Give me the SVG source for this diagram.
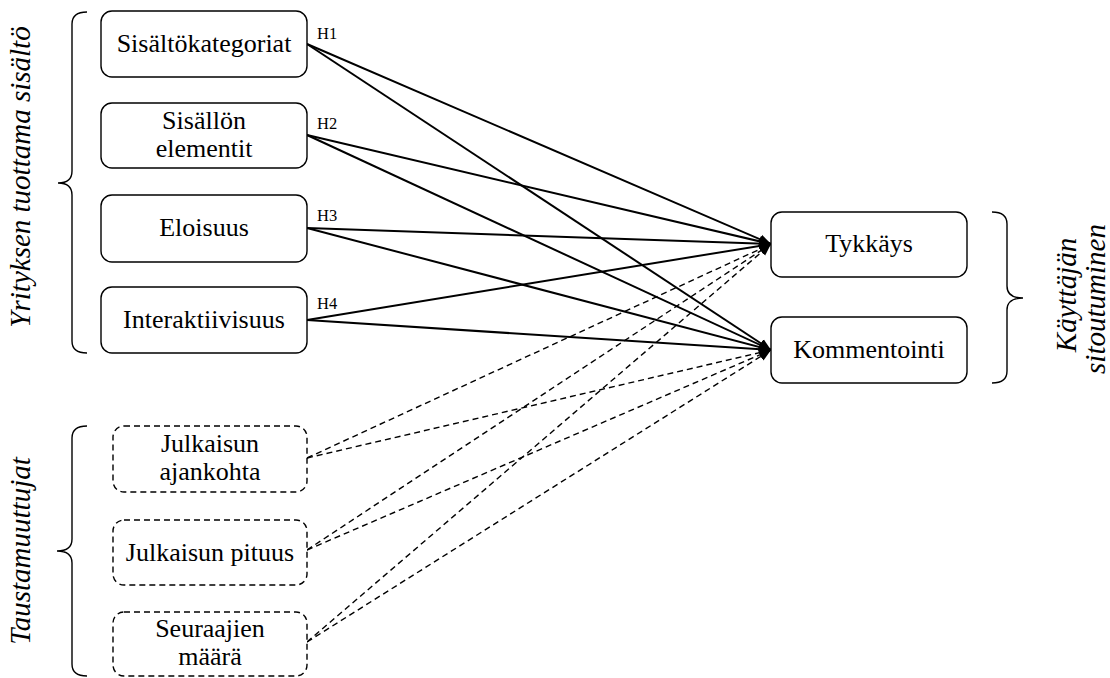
<svg xmlns="http://www.w3.org/2000/svg" width="1110" height="678" viewBox="0 0 1110 678" font-family="'Liberation Serif', 'Times New Roman', serif">
<style>
.box{fill:#fff;stroke:#000;stroke-width:1.4}
.dbox{fill:#fff;stroke:#000;stroke-width:1.4;stroke-dasharray:6,4}
.t{font-family:'Liberation Serif','Times New Roman',serif;font-size:26px;fill:#000;text-anchor:middle}
.h{font-family:'Liberation Serif','Times New Roman',serif;font-size:16.5px;fill:#000}
.it{font-family:'Liberation Serif','Times New Roman',serif;font-size:29px;font-style:italic;fill:#000;text-anchor:middle}
.br{fill:none;stroke:#000;stroke-width:1.4}
.s{stroke:#000;stroke-width:2;fill:none;marker-end:url(#a)}
.d{stroke:#000;stroke-width:1.4;stroke-dasharray:6,4;fill:none;marker-end:url(#a)}
</style>
<defs>
<marker id="a" markerUnits="userSpaceOnUse" markerWidth="13" markerHeight="11" refX="12" refY="5.5" orient="auto">
<path d="M0,0.5 L12,5.5 L0,10.5 Z" fill="#000"/>
</marker>
</defs>
<rect width="1110" height="678" fill="#fff"/>
<g id="connectors">
<line class="d" x1="307" y1="458" x2="771" y2="244"/>
<line class="d" x1="307" y1="458" x2="771" y2="350"/>
<line class="d" x1="307" y1="550" x2="771" y2="244"/>
<line class="d" x1="307" y1="550" x2="771" y2="350"/>
<line class="d" x1="307" y1="642" x2="771" y2="244"/>
<line class="d" x1="307" y1="642" x2="771" y2="350"/>
<line class="s" x1="307" y1="44" x2="771" y2="244"/>
<line class="s" x1="307" y1="44" x2="771" y2="350"/>
<line class="s" x1="307" y1="135" x2="771" y2="244"/>
<line class="s" x1="307" y1="135" x2="771" y2="350"/>
<line class="s" x1="307" y1="228" x2="771" y2="244"/>
<line class="s" x1="307" y1="228" x2="771" y2="350"/>
<line class="s" x1="307" y1="320" x2="771" y2="244"/>
<line class="s" x1="307" y1="320" x2="771" y2="350"/>
</g>
<g id="n-sisaltokategoriat">
<rect class="box" x="101" y="11" width="206" height="66" rx="11"/>
<text class="t" x="204" y="52">Sisältökategoriat</text>
<text class="h" x="317" y="39">H1</text>
</g>
<g id="n-sisallon-elementit">
<rect class="box" x="101" y="103" width="206" height="65" rx="11"/>
<text class="t" x="204" y="129">Sisällön</text>
<text class="t" x="204" y="157">elementit</text>
<text class="h" x="317" y="129">H2</text>
</g>
<g id="n-eloisuus">
<rect class="box" x="101" y="195" width="206" height="67" rx="11"/>
<text class="t" x="204" y="236">Eloisuus</text>
<text class="h" x="317" y="221">H3</text>
</g>
<g id="n-interaktiivisuus">
<rect class="box" x="101" y="287" width="206" height="66" rx="11"/>
<text class="t" x="204" y="328">Interaktiivisuus</text>
<text class="h" x="317" y="309">H4</text>
</g>
<g id="n-julkaisun-ajankohta">
<rect class="dbox" x="113" y="426" width="194" height="66" rx="11"/>
<text class="t" x="210" y="452">Julkaisun</text>
<text class="t" x="210" y="480">ajankohta</text>
</g>
<g id="n-julkaisun-pituus">
<rect class="dbox" x="113" y="520" width="194" height="65" rx="11"/>
<text class="t" x="210" y="561">Julkaisun pituus</text>
</g>
<g id="n-seuraajien-maara">
<rect class="dbox" x="113" y="612" width="194" height="64" rx="11"/>
<text class="t" x="210" y="637">Seuraajien</text>
<text class="t" x="210" y="665">määrä</text>
</g>
<g id="n-tykkays">
<rect class="box" x="771" y="212" width="196" height="65" rx="11"/>
<text class="t" x="869" y="252">Tykkäys</text>
</g>
<g id="n-kommentointi">
<rect class="box" x="771" y="317" width="196" height="66" rx="11"/>
<text class="t" x="869" y="358">Kommentointi</text>
</g>
<g id="group-yritys">
<path class="br" d="M87,12 Q72,12 72,24 L72,171 Q72,183 58,183 Q72,183 72,195 L72,341 Q72,353 87,353"/>
<text class="it" transform="translate(30,177) rotate(-90)">Yrityksen tuottama sisältö</text>
</g>
<g id="group-tausta">
<path class="br" d="M87,426 Q72,426 72,438 L72,539 Q72,551 57,551 Q72,551 72,563 L72,664 Q72,676 87,676"/>
<text class="it" transform="translate(30,551) rotate(-90)" font-size="30">Taustamuuttujat</text>
</g>
<g id="group-kayttaja">
<path class="br" d="M992,212 Q1007,212 1007,224 L1007,286 Q1007,298 1023,298 Q1007,298 1007,310 L1007,371 Q1007,383 992,383"/>
<text class="it" transform="translate(1076,295) rotate(-90)">Käyttäjän</text>
<text class="it" transform="translate(1105,299) rotate(-90)">sitoutuminen</text>
</g>
</svg>
